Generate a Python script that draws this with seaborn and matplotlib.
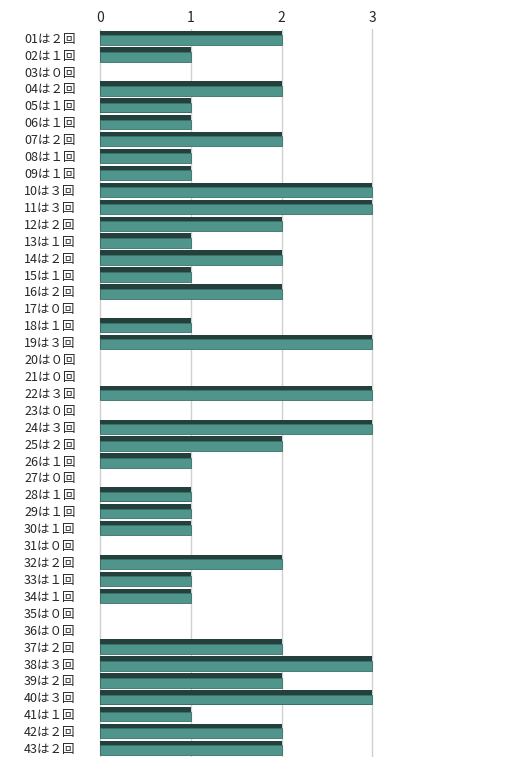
import numpy as np
import pandas as pd
import matplotlib
matplotlib.use("Agg")
import matplotlib.pyplot as plt
import seaborn as sns

# data
numbers = [f"{i:02d}" for i in range(1, 44)]
counts = [2, 1, 0, 2, 1, 1, 2, 1, 1, 3,
          3, 2, 1, 2, 1, 2, 0, 1, 3, 0,
          0, 3, 0, 3, 2, 1, 0, 1, 1, 1,
          0, 2, 1, 1, 0, 0, 2, 3, 2, 3,
          1, 2, 2]
full_width = "０１２３４５６７８９"
labels = [f"{n}は{full_width[c]}回" for n, c in zip(numbers, counts)]
ticks = [0, 1, 2, 3]

df = pd.DataFrame({"label": labels, "count": counts})

sns.set_style("white")
plt.rcParams["font.family"] = ["Noto Sans CJK JP", "DejaVu Sans"]

fig = plt.figure(figsize=(5.25, 7.7), dpi=100)
ax = fig.add_axes([0.165, 0.0175, 0.803, 0.9445])

# dark top face, then lighter front face shifted down
sns.barplot(data=df, y="label", x="count", orient="h", color="#24403d",
            width=0.85, saturation=1, linewidth=0, ax=ax)
n_dark = len(ax.patches)
sns.barplot(data=df, y="label", x="count", orient="h", color="#4f958b",
            width=0.58, saturation=1, linewidth=0, ax=ax)
for p in ax.patches[n_dark:]:
    p.set_y(p.get_y() + 0.13)
    if p.get_width() > 0:
        p.set_edgecolor("#3a7068")
        p.set_linewidth(0.6)

ax.set_xlim(-0.15, 4.5)
ax.set_xticks(ticks)
ax.xaxis.tick_top()
ax.tick_params(axis="x", length=0, pad=3, labelsize=10)
ax.tick_params(axis="y", length=0, pad=8, labelsize=9)
ax.grid(axis="x", color="#d0d0d0", linewidth=1)
ax.set_axisbelow(True)
ax.set_xlabel("")
ax.set_ylabel("")
for s in ax.spines.values():
    s.set_visible(False)

fig.savefig("out.png", dpi=100)
